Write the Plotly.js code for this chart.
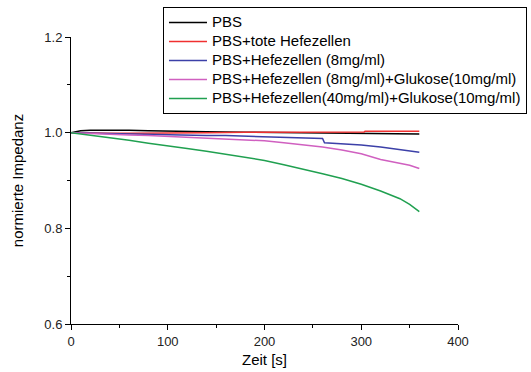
<!DOCTYPE html>
<html>
<head>
<meta charset="utf-8">
<script src="https://cdn.plot.ly/plotly-3.0.1.min.js"></script>
<style>html,body{margin:0;padding:0;background:#fff;}#chart{width:531px;height:372px;}</style>
</head>
<body>
<div id="chart"></div>
<script>
const names = ["PBS", "PBS+tote Hefezellen", "PBS+Hefezellen (8mg/ml)", "PBS+Hefezellen (8mg/ml)+Glukose(10mg/ml)", "PBS+Hefezellen(40mg/ml)+Glukose(10mg/ml)"];
const colors = ["#000000", "#f03030", "#3c40a8", "#d060c0", "#20a050"];

const tBlack = [0, 10, 20, 40, 60, 80, 100, 140, 180, 220, 260, 300, 340, 360];
const yBlack = [1.000, 1.004, 1.005, 1.0055, 1.005, 1.004, 1.003, 1.002, 1.001, 1.000, 0.999, 0.998, 0.997, 0.997];

const tRed = [0, 20, 40, 60, 80, 100, 140, 180, 220, 260, 303, 304, 340, 360];
const yRed = [1.000, 0.999, 0.999, 0.999, 0.999, 1.000, 1.000, 1.001, 1.001, 1.0015, 1.0015, 1.003, 1.003, 1.003];

const tBlue = [0, 20, 40, 60, 80, 100, 120, 140, 160, 180, 200, 220, 240, 260, 262, 280, 300, 320, 340, 360];
const yBlue = [1.000, 0.999, 0.998, 0.997, 0.997, 0.996, 0.995, 0.994, 0.994, 0.993, 0.992, 0.991, 0.990, 0.988, 0.979, 0.977, 0.974, 0.970, 0.965, 0.959];

const tPink = [0, 20, 40, 60, 80, 100, 120, 140, 160, 180, 200, 220, 240, 260, 280, 300, 320, 340, 350, 360];
const yPink = [1.000, 0.998, 0.997, 0.995, 0.994, 0.992, 0.990, 0.989, 0.987, 0.985, 0.983, 0.979, 0.975, 0.970, 0.964, 0.956, 0.944, 0.936, 0.932, 0.925];

const tGreen = [0, 20, 40, 60, 80, 100, 120, 140, 160, 180, 200, 220, 240, 260, 280, 300, 320, 340, 350, 360];
const yGreen = [1.000, 0.995, 0.990, 0.984, 0.978, 0.973, 0.967, 0.961, 0.955, 0.949, 0.942, 0.933, 0.924, 0.914, 0.904, 0.892, 0.878, 0.862, 0.850, 0.835];

const xs = [tBlack, tRed, tBlue, tPink, tGreen];
const ys = [yBlack, yRed, yBlue, yPink, yGreen];

const traces = names.map((n, i) => ({
  x: xs[i], y: ys[i], name: '<span style="font-size:15px">' + n + '</span>',
  type: 'scatter', mode: 'lines',
  line: {color: colors[i], width: 1.5}
}));

const FF = 'Liberation Sans, Arial, sans-serif';
const axisFont = {family: FF, size: 13, color: '#222'};

const layout = {
  width: 531, height: 372,
  margin: {l: 71, r: 73, t: 37, b: 48, pad: 0, autoexpand: false},
  paper_bgcolor: '#fff', plot_bgcolor: '#fff',
  font: {family: FF, color: '#000'},
  showlegend: true,
  legend: {
    x: 0.2377, y: 1.1045, xanchor: 'left', yanchor: 'top',
    bordercolor: '#000', borderwidth: 1, bgcolor: '#fff',
    font: {size: 12, color: '#000', family: FF},
    tracegroupgap: 0, itemwidth: 38
  },
  xaxis: {
    range: [0, 400], dtick: 100, tick0: 0,
    showgrid: false, zeroline: false, showline: true, linecolor: '#000', linewidth: 1,
    ticks: 'outside', ticklen: 5, tickcolor: '#000',
    minor: {dtick: 50, ticks: 'outside', ticklen: 3, tickcolor: '#000', showgrid: false},
    tickfont: axisFont,
    title: {text: 'Zeit [s]', font: {size: 15, color: '#000', family: FF}, standoff: 6}
  },
  yaxis: {
    range: [0.6, 1.2], dtick: 0.2, tick0: 0.6, tickformat: '.1f',
    showgrid: false, zeroline: false, showline: true, linecolor: '#000', linewidth: 1,
    ticks: 'outside', ticklen: 5, tickcolor: '#000',
    minor: {dtick: 0.1, ticks: 'outside', ticklen: 3, tickcolor: '#000', showgrid: false},
    tickfont: axisFont,
    title: {text: 'normierte Impedanz', font: {size: 15, color: '#000', family: FF}, standoff: 17}
  }
};

Plotly.newPlot('chart', traces, layout, {displayModeBar: false, staticPlot: true});
</script>
</body>
</html>
